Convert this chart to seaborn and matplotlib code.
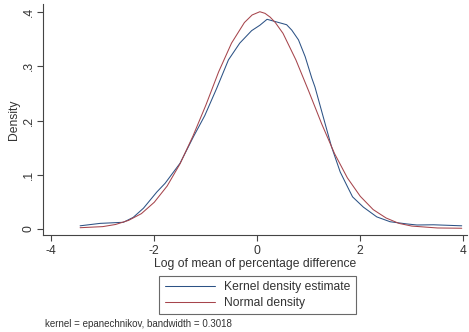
import pandas as pd
import seaborn as sns
import matplotlib.pyplot as plt

# values
kde_x = [-3.44, -3.05, -2.60, -2.41, -2.21, -1.95, -1.79, -1.50, -1.24, -1.02,
         -0.79, -0.56, -0.34, -0.11, 0.05, 0.19, 0.38, 0.57, 0.67, 0.80,
         0.93, 1.06, 1.12, 1.28, 1.44, 1.61, 1.75, 1.85, 2.06, 2.32,
         2.58, 2.90, 3.10, 3.42, 3.97]
kde_y = [0.0055, 0.010, 0.012, 0.021, 0.038, 0.068, 0.084, 0.121, 0.170, 0.209,
         0.259, 0.312, 0.343, 0.366, 0.376, 0.387, 0.382, 0.377, 0.367, 0.349,
         0.318, 0.278, 0.262, 0.207, 0.152, 0.105, 0.078, 0.059, 0.040, 0.022,
         0.013, 0.009, 0.007, 0.0074, 0.0055]

norm_x = [-3.44, -3.0, -2.75, -2.5, -2.25, -2.0, -1.75, -1.5, -1.25, -1.0,
          -0.75, -0.5, -0.25, -0.1, 0.05, 0.15, 0.25, 0.35, 0.5, 0.75,
          1.0, 1.25, 1.5, 1.75, 2.0, 2.25, 2.5, 2.75, 3.0, 3.5, 3.97]
norm_y = [0.002, 0.004, 0.008, 0.0155, 0.028, 0.049, 0.079, 0.120, 0.171, 0.228,
          0.290, 0.343, 0.381, 0.395, 0.401, 0.398, 0.391, 0.381, 0.361, 0.312,
          0.254, 0.194, 0.139, 0.094, 0.060, 0.0355, 0.020, 0.010, 0.005, 0.0015,
          0.001]

series_names = ["Kernel density estimate", "Normal density"]
x_ticks = [-4, -2, 0, 2, 4]
y_ticks = [0, 0.1, 0.2, 0.3, 0.4]
y_tick_labels = ["0", ".1", ".2", ".3", ".4"]

df = pd.concat([
    pd.DataFrame({"x": kde_x, "density": kde_y, "series": series_names[0]}),
    pd.DataFrame({"x": norm_x, "density": norm_y, "series": series_names[1]}),
])

sns.set_style("ticks")
plt.rcParams['font.family'] = ['Liberation Sans', 'DejaVu Sans']

fig = plt.figure(figsize=(4.69, 3.32), dpi=100)
ax = fig.add_axes([0.0923, 0.291, 0.9034, 0.697])

sns.lineplot(data=df, x="x", y="density", hue="series",
             palette=["#2c5285", "#a6454c"], linewidth=0.75,
             estimator=None, ax=ax)

ax.set_xlim(-4.155, 4.072)
ax.set_ylim(-0.0122, 0.4153)
ax.set_xticks(x_ticks)
ax.set_xticklabels([str(t) for t in x_ticks])
ax.set_yticks(y_ticks)
ax.set_yticklabels(y_tick_labels, rotation=90, va="center")

sns.despine(ax=ax)
for s in ["left", "bottom"]:
    ax.spines[s].set_color("#444444")
    ax.spines[s].set_linewidth(0.8)
ax.tick_params(direction="out", length=4, width=0.8, color="#444444",
               labelsize=8.7, labelcolor="#333333", pad=3)
ax.tick_params(axis="y", pad=2)

ax.set_xlabel("Log of mean of percentage difference", fontsize=8.7,
              color="#333333", labelpad=0.5)
ax.set_ylabel("Density", fontsize=8.7, color="#333333", labelpad=2)

ax.legend_.remove()
handles, labels = ax.get_legend_handles_labels()
leg = fig.legend(handles, labels, loc="center",
                 bbox_to_anchor=(0.549, 0.111), bbox_transform=fig.transFigure,
                 fontsize=8.7, frameon=True, fancybox=False, handlelength=4.2,
                 handletextpad=0.7, labelspacing=0.3, borderpad=0.45)
leg.get_frame().set_edgecolor("#444444")
leg.get_frame().set_linewidth(0.8)
for t in leg.get_texts():
    t.set_color("#333333")

fig.text(45 / 469, 1 - 324 / 332, "kernel = epanechnikov, bandwidth = 0.3018",
         fontsize=7, va="center", color="#333333")

fig.savefig("out.png", dpi=100)
